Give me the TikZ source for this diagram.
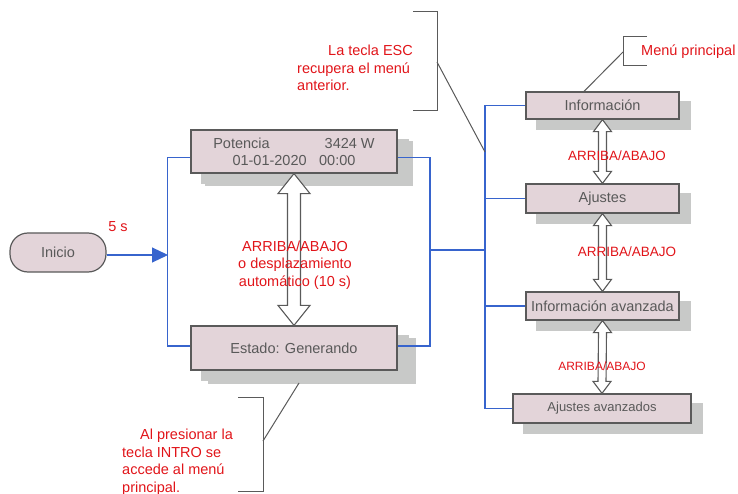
\documentclass[tikz,border=0pt]{standalone}
\usepackage{fontspec}
\setmainfont{Liberation Sans}
\usetikzlibrary{arrows.meta, calc, positioning, shadows}
\definecolor{rosa}{RGB}{227,212,217}
\definecolor{borde}{RGB}{90,90,90}
\definecolor{sombra}{RGB}{200,201,200}
\definecolor{texto}{RGB}{89,89,89}
\definecolor{rojo}{RGB}{225,20,25}
\definecolor{azul}{RGB}{55,100,205}
\tikzset{
    caja/.style={draw=borde, fill=rosa, line width=1.2pt, text=texto, inner sep=0pt,
        font=\fontsize{14.5}{17}\selectfont,
        drop shadow={shadow xshift=11pt, shadow yshift=-10pt, fill=sombra, draw=sombra, opacity=1}},
    grande/.style={drop shadow={shadow xshift=15pt, shadow yshift=-12pt, fill=sombra, draw=sombra, opacity=1}},
    inicio/.style={draw=borde, fill=rosa, line width=1.2pt, text=texto, rounded corners=18pt,
        minimum width=96pt, minimum height=39pt, font=\fontsize{14.5}{17}\selectfont},
    rotulo/.style={text=rojo, inner sep=0pt, font=\fontsize{14.5}{17.5}\selectfont},
    linea/.style={draw=azul, line width=1.1pt},
    llave/.style={draw=borde, line width=1pt},
    flecha/.style={draw=borde, fill=white, line width=1.1pt, line join=miter},
}
% flecha doble: punta arriba, punta abajo, medio cuerpo, media cabeza, largo cabeza
\newcommand{\flechadoble}[5]{%
    \draw[flecha] (#1) -- ++(#4,#5) -- ++(-#4+#3,0) -- ($(#2)+(#3,-#5)$) -- ++(#4-#3,0)
        -- (#2) -- ++(-#4,-#5) -- ++(#4-#3,0) -- ($(#1)+(-#3,#5)$) -- ++(-#4+#3,0) -- cycle;
}

\begin{document}
\begin{tikzpicture}[x=1pt, y=-1pt]
\useasboundingbox (0,0) rectangle (738,494);
% pantalla principal
\node[inicio] (inicio) at (58,252.5) {Inicio};
\node[caja, grande, minimum width=206pt, minimum height=43pt, align=center] (pot) at (294,151.5)
    {Potencia\hspace{55pt}3424 W\\01-01-2020\hspace{12.5pt}00:00};
\node[caja, minimum width=206pt, minimum height=44pt,
    drop shadow={shadow xshift=18pt, shadow yshift=-13pt, fill=sombra, draw=sombra, opacity=1}] (est) at (294,348) {Estado: Generando};
% menu principal
\node[caja, minimum width=153pt, minimum height=27pt] (info) at (602.5,105.5) {Información};
\node[caja, minimum width=153pt, minimum height=29pt] (aju) at (602.5,198.5) {Ajustes};
\node[caja, minimum width=153pt, minimum height=28pt] (infoav) at (602.5,306) {Información avanzada};
\node[caja, minimum width=178pt, minimum height=29pt, font=\fontsize{13}{15}\selectfont] (ajuav) at (602,408.5) {Ajustes avanzados};
% conexiones
\coordinate (entrada) at (168,255);
\coordinate (union) at (430,250);
\coordinate (bus) at (485,0);
\draw[linea, -{Triangle[length=16pt, width=15pt]}] (inicio.east |- entrada) -- (entrada);
\draw[linea] ([yshift=-6pt]pot.west) -- ++(-23,0) |- ([yshift=2pt]est.west);
\draw[linea] ([yshift=-6pt]pot.east) -| (union) |- ([yshift=2pt]est.east);
\draw[linea] (union) -- (bus |- union);
\draw[linea] (bus |- info.west) -- (bus |- ajuav.west);
\foreach \n in {info, aju, infoav, ajuav} {
    \draw[linea] (bus |- \n.west) -- (\n.west);
}
% flechas dobles
\flechadoble{pot.south}{est.north}{6.5}{16}{20}
\flechadoble{info.south}{aju.north}{4}{9}{12}
\flechadoble{aju.south}{infoav.north}{4}{9}{12}
\flechadoble{infoav.south}{ajuav.north}{4}{9}{12}
% rotulos
\node[rotulo] (cinco) at (118,227) {5 s};
\node[rotulo, align=center] (despl) at (295,265) {ARRIBA/ABAJO\\o desplazamiento\\automático (10 s)};
\node[rotulo, font=\fontsize{13.4}{16}\selectfont] (arr1) at (617,156) {ARRIBA/ABAJO};
\node[rotulo, font=\fontsize{13.5}{16}\selectfont] (arr2) at (627,252) {ARRIBA/ABAJO};
\node[rotulo, font=\fontsize{12}{14}\selectfont] (arr3) at (602,366) {ARRIBA/ABAJO};
\node[rotulo, align=left, anchor=west] (esc) at (297,68) {\hspace*{31pt}La tecla ESC\\recupera el menú\\anterior.};
\node[rotulo, anchor=west] (menu) at (641,52) {Menú principal};
\node[rotulo, align=left, anchor=west] (intro) at (122,462) {\hspace*{18pt}Al presionar la\\tecla INTRO se\\accede al menú\\principal.};
% llaves
\draw[llave] (413,12) -- (437,12) -- (437,111) -- (413,111);
\draw[llave] (437,62) -- (bus |- 0,152);
\draw[llave] (647,37) -- (623,37) -- (623,66) -- (647,66);
\draw[llave] (623,52) -- ($(info.north west)!0.38!(info.north east)$);
\draw[llave] (238,397) -- (263,397) -- (263,491) -- (238,491);
\draw[llave] (263,441) -- (299,383);
\end{tikzpicture}
\end{document}
